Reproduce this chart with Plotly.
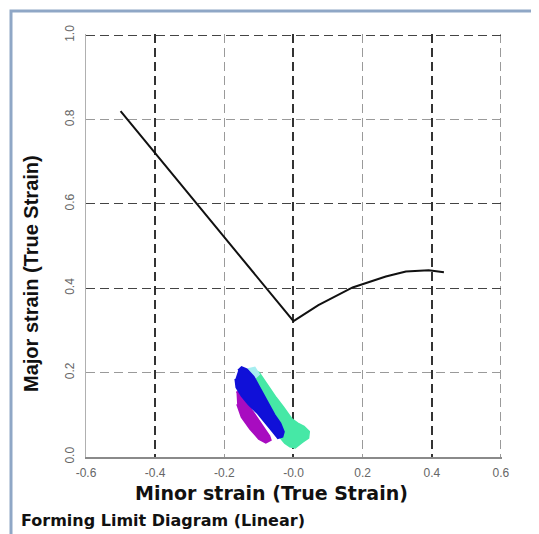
import plotly.graph_objects as go

# Forming limit curve (minor strain, major strain)
flc_minor = [-0.50, 0.0, 0.072, 0.171, 0.267, 0.325, 0.391, 0.435]
flc_major = [0.82, 0.322, 0.36, 0.402, 0.428, 0.440, 0.443, 0.438]

# Strain point clouds, outlined as regions
aqua_minor = [-0.118, -0.100, -0.075, -0.050, -0.029, -0.005, 0.012, 0.030, 0.045, 0.043, 0.025, 0.005, -0.010, -0.025, -0.040, -0.060, -0.090, -0.115]
aqua_major = [0.205, 0.200, 0.170, 0.140, 0.118, 0.090, 0.080, 0.072, 0.060, 0.045, 0.035, 0.022, 0.025, 0.033, 0.048, 0.080, 0.130, 0.180]

cyan_minor = [-0.132, -0.112, -0.100, -0.116]
cyan_major = [0.208, 0.212, 0.196, 0.184]

mag_minor = [-0.165, -0.150, -0.120, -0.090, -0.070, -0.066, -0.080, -0.100, -0.125, -0.150, -0.163]
mag_major = [0.155, 0.150, 0.110, 0.075, 0.050, 0.040, 0.034, 0.043, 0.066, 0.095, 0.125]

blue_minor = [-0.160, -0.150, -0.135, -0.115, -0.095, -0.075, -0.055, -0.038, -0.028, -0.032, -0.045, -0.060, -0.080, -0.105, -0.130, -0.150, -0.165, -0.168]
blue_major = [0.205, 0.213, 0.208, 0.190, 0.160, 0.130, 0.100, 0.080, 0.060, 0.048, 0.045, 0.060, 0.080, 0.105, 0.125, 0.145, 0.165, 0.185]

x_ticks = [-0.6, -0.4, -0.2, 0.0, 0.2, 0.4, 0.6]
x_tick_text = ["-0.6", "-0.4", "-0.2", "-0.0", "0.2", "0.4", "0.6"]
y_ticks = [0.0, 0.2, 0.4, 0.6, 0.8, 1.0]
y_tick_text = ["0.0", "0.2", "0.4", "0.6", "0.8", "1.0"]

fig = go.Figure()

def region(xs, ys, color):
    fig.add_trace(go.Scatter(x=xs, y=ys, mode="lines", fill="toself",
                             fillcolor=color, line=dict(color=color, width=2),
                             hoverinfo="skip", showlegend=False))

region(aqua_minor, aqua_major, "#46e8a6")
region(cyan_minor, cyan_major, "#a6eef0")
region(mag_minor, mag_major, "#a80cc0")
region(blue_minor, blue_major, "#1010d8")

fig.add_trace(go.Scatter(x=flc_minor, y=flc_major, mode="lines",
                         line=dict(color="#111111", width=2),
                         showlegend=False))

# empty trace to host the overlay axes with darker grid lines
fig.add_trace(go.Scatter(x=[], y=[], xaxis="x2", yaxis="y2", showlegend=False))

O = 8  # page body offset
W, H = 539 - O, 534 - O
L, R, T, B = 86 - O, 37, 34 - O, 77
pw, ph = W - L - R, H - T - B

def px(xp):
    return (xp - O - L) / pw

def py(yp):
    return (H - B - (yp - O)) / ph

DASH = "9px,5px"
XR = [-0.6, 0.603]
YR = [0.0, 1.003]

fig.update_layout(
    width=W, height=H,
    margin=dict(l=L, r=R, t=T, b=B),
    paper_bgcolor="white",
    plot_bgcolor="white",
    xaxis=dict(range=XR, tickvals=x_ticks, ticktext=x_tick_text,
               showgrid=True, gridcolor="#9a9a9a", griddash=DASH, gridwidth=1,
               zeroline=False, showline=True, linecolor="#8a8a8a", linewidth=2,
               tickfont=dict(family="Liberation Sans", size=12, color="#666666"),
               ticks="", ticklabelstandoff=4),
    yaxis=dict(range=YR, tickvals=y_ticks, ticktext=y_tick_text,
               showgrid=True, gridcolor="#9a9a9a", griddash=DASH, gridwidth=1,
               zeroline=False, showline=True, linecolor="#b0b0b0", linewidth=1,
               tickangle=-90,
               tickfont=dict(family="Liberation Sans", size=12, color="#666666"),
               ticks="", ticklabelstandoff=6),
    xaxis2=dict(range=XR, overlaying="x", tick0=-0.4, dtick=0.4,
                showticklabels=False, showgrid=True, gridcolor="#333333",
                griddash=DASH, gridwidth=2, zeroline=False, showline=False),
    yaxis2=dict(range=YR, overlaying="y", tickvals=[0.4, 0.6, 1.0],
                showticklabels=False, showgrid=True, gridcolor="#444444",
                griddash=DASH, gridwidth=1.3, zeroline=False, showline=False),
    shapes=[dict(type="rect", xref="paper", yref="paper",
                 x0=px(11), x1=px(535), y0=py(545), y1=py(11),
                 line=dict(color="#8fa7c6", width=3), fillcolor="rgba(0,0,0,0)",
                 layer="below")],
    annotations=[
        dict(text="<b>Minor strain (True Strain)</b>", xref="paper", yref="paper",
             x=px(271), y=py(493), xanchor="center", yanchor="middle", showarrow=False,
             font=dict(family="DejaVu Sans", size=19, color="#111111")),
        dict(text="<b>Forming Limit Diagram (Linear)</b>", xref="paper", yref="paper",
             x=px(19), y=py(520), xanchor="left", yanchor="middle", showarrow=False,
             font=dict(family="DejaVu Sans", size=16, color="#111111")),
        dict(text="<b>Major strain (True Strain)</b>", xref="paper", yref="paper",
             x=px(31), y=py(274), xanchor="center", yanchor="middle", showarrow=False,
             textangle=-90,
             font=dict(family="Liberation Sans", size=20, color="#111111")),
    ],
)

fig.write_html("out.html")
